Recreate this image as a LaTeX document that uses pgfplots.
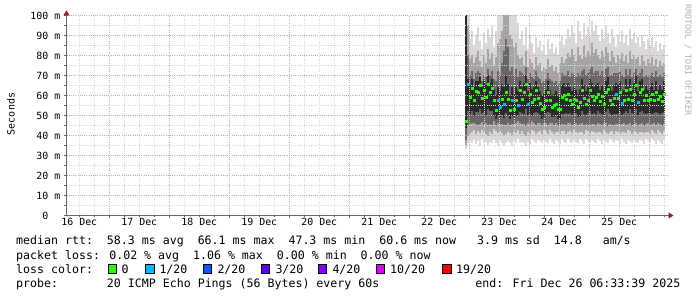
\documentclass[border=0pt]{standalone}
\usepackage{fontspec}
\usepackage{pgfplots}
\pgfplotsset{compat=1.18}
\usepackage{pgfplotstable}
\usetikzlibrary{arrows.meta}
\newfontfamily\dmono{DejaVu Sans Mono}
\definecolor{smokeA}{HTML}{D8D8D8}
\definecolor{smokeB}{HTML}{A4A4A4}
\definecolor{smokeC}{HTML}{676767}
\definecolor{smokeD}{HTML}{2A2A2A}
\definecolor{lossA}{HTML}{26FF00}
\definecolor{lossB}{HTML}{00B8FF}
\definecolor{lossC}{HTML}{0059FF}
\definecolor{lossD}{HTML}{5E00FF}
\definecolor{lossE}{HTML}{7E00FF}
\definecolor{lossF}{HTML}{DD00FF}
\definecolor{lossG}{HTML}{FF0000}
\definecolor{mgrid}{HTML}{DBA4A4}
\definecolor{ngrid}{HTML}{D8D8D8}
\definecolor{axcol}{HTML}{666666}
\definecolor{arrcol}{HTML}{A01C1C}

% x in hours since 16 Dec 00:00; columns of the ping smoke (min..max bands) and median rtt (ms)
\pgfplotstableread{
x lo1 hi1 lo2 hi2 lo3 hi3 lo4 hi4 med
166.8 33 100 35 100 38 100 44 100 47.3
167.6 36 100 40 95 45 80 52 68 65.5
168.4 37 88 41 78 46 70 51 65 59
169.2 36 92 42 80 46 72 52 68 63.5
170.0 38 85 43 76 46 68 50 64 57.5
170.8 36 90 41 79 46 71 52 67 62
171.6 37 94 42 82 45 72 52 67 61.7
172.4 35 87 41 77 46 71 53 69 65
173.2 38 83 43 74 47 67 51 64 58.5
174.0 36 91 42 80 45 70 52 67 62.5
174.8 37 86 41 76 46 69 50 65 59
175.6 35 93 40 83 45 73 53 70 65.8
176.4 37 89 42 78 46 70 52 66 61.7
177.2 36 95 41 81 45 72 52 68 63.7
178.0 38 84 43 75 47 68 50 63 57.5
178.8 36 92 42 79 45 67 48 60 52.8
179.6 35 100 41 86 46 72 50 64 57.5
180.4 37 100 42 88 46 70 49 62 54
181.2 36 100 41 92 46 76 50 66 58.3
182.0 35 100 40 100 45 82 49 64 55.5
182.8 36 100 41 100 45 88 51 70 61.7
183.6 37 100 42 100 46 84 50 66 58
184.4 36 100 41 90 45 72 48 60 52.5
185.2 35 100 40 88 46 74 50 64 57.5
186.0 37 100 42 84 46 70 49 61 53.3
186.8 36 100 41 86 46 73 50 64 57.8
187.6 38 96 43 80 47 69 50 62 55
188.4 36 88 41 78 46 72 52 67 62.5
189.2 37 92 42 79 46 71 51 64 58.3
190.0 36 85 41 75 46 70 51 66 61.7
190.8 35 94 40 82 45 74 53 70 65.8
191.6 37 83 42 74 46 68 50 62 55.8
192.4 36 90 41 78 46 71 51 66 60.8
193.2 38 86 43 76 47 69 50 63 56.7
194.0 37 81 42 73 46 68 51 64 58.3
194.8 36 89 41 79 45 72 52 67 62.5
195.6 38 84 42 75 46 69 51 64 58.8
196.4 37 87 42 76 46 68 50 62 56.2
197.2 36 82 41 72 45 66 48 60 53.3
198.0 38 85 43 74 46 67 49 61 54.2
198.8 37 80 42 73 46 68 51 63 57.8
199.6 36 88 41 78 45 71 52 67 61.7
200.4 38 83 43 74 46 68 51 63 57.5
201.2 37 86 42 75 46 67 49 60 54.2
202.0 36 81 41 72 45 66 49 61 55
202.8 38 84 42 74 46 67 50 62 55.8
203.6 37 80 42 71 45 65 48 60 53.3
204.4 36 87 41 76 45 67 48 60 53.3
205.2 38 90 42 79 46 71 51 65 59.2
206.0 37 85 42 76 46 70 51 66 60
206.8 36 88 41 78 45 70 51 64 58.3
207.6 38 93 42 81 46 72 51 66 60.8
208.4 37 89 42 79 46 69 51 64 57.5
209.2 36 95 41 83 45 71 50 62 55.8
210.0 38 91 43 80 46 70 51 64 58.3
210.8 37 86 42 77 46 69 51 63 57.5
211.6 36 97 41 84 45 71 49 61 54.2
212.4 38 92 42 80 46 70 50 63 56.7
213.2 37 88 42 78 46 72 52 68 62.5
214.0 36 96 41 85 45 73 51 65 58.8
214.8 38 90 43 79 46 70 50 62 55.8
215.6 37 94 42 82 45 71 51 64 57.5
216.4 36 89 41 80 45 73 52 68 62.5
217.2 38 97 42 86 46 74 51 66 59.5
218.0 37 92 42 81 46 71 51 64 57.5
218.8 36 95 41 83 45 72 51 65 59.2
219.6 38 90 42 80 46 72 52 66 60.8
220.4 37 87 42 78 46 70 51 63 57.2
221.2 36 93 41 82 45 72 51 65 59.5
222.0 38 88 43 79 46 69 50 62 55.5
222.8 37 95 42 84 46 73 52 67 61.7
223.6 36 91 41 81 45 74 53 69 63.3
224.4 38 86 42 77 46 70 51 64 57.8
225.2 37 93 42 82 45 70 50 62 55.8
226.0 36 89 41 79 45 71 51 65 58.8
226.8 38 84 42 76 46 71 51 66 60.8
227.6 37 90 42 80 46 71 51 65 58.8
228.4 36 87 41 78 45 72 52 67 61.7
229.2 38 92 42 81 46 70 50 62 56
230.0 37 86 42 77 46 69 51 63 57.5
230.8 36 90 41 80 45 73 52 68 62.8
231.6 38 85 43 76 46 70 51 64 58.3
232.4 37 93 42 82 46 73 53 68 63.3
233.2 36 88 41 78 45 69 51 63 57.5
234.0 38 91 42 80 46 71 51 66 60.8
234.8 37 86 42 78 46 73 53 70 65
235.6 36 89 41 79 45 70 50 62 56.5
236.4 38 84 42 75 46 71 52 67 61.7
237.2 37 90 42 80 46 73 52 68 63.3
238.0 36 87 41 77 45 69 51 63 57.5
238.8 38 83 42 75 46 70 51 65 60
239.6 37 88 42 78 46 69 51 63 57.5
240.4 36 85 41 76 45 70 51 64 58.3
241.2 38 89 43 79 46 71 51 66 60.8
242.0 37 84 42 75 46 69 51 63 57.5
242.8 36 87 41 78 45 72 52 67 61.7
243.6 38 82 43 74 46 69 51 63 58
244.4 37 86 42 77 46 70 51 65 59.5
245.2 36 83 41 75 45 69 51 63 57
246.0 38 85 42 76 46 71 52 67 60.6
}\smoke

\begin{document}
\begin{tikzpicture}
\useasboundingbox[fill=white] (0,0) rectangle (697bp,297bp);
\begin{axis}[
  at={(66.5bp,81.5bp)}, anchor=south west,
  scale only axis, width=602bp, height=200bp,
  xmin=6.88, xmax=247.68, ymin=0, ymax=100,
  enlargelimits=false,
  axis on top,
  axis x line=bottom, axis y line=left,
  x axis line style={draw=axcol, line width=0.8bp, -{Triangle[width=6bp,length=5bp,color=arrcol]}, shorten >=-5bp},
  y axis line style={draw=axcol, line width=0.8bp, -{Triangle[width=6bp,length=5bp,color=arrcol]}, shorten >=-5bp},
  xtick={24,48,72,96,120,144,168,192,216,240},
  xticklabels={},
  minor xtick={12,18,30,36,42,54,60,66,78,84,90,102,108,114,126,132,138,150,156,162,174,180,186,198,204,210,222,228,234,246},
  extra x ticks={12,36,60,84,108,132,156,180,204,228},
  extra x tick labels={16 Dec,17 Dec,18 Dec,19 Dec,20 Dec,21 Dec,22 Dec,23 Dec,24 Dec,25 Dec},
  extra x tick style={grid=none, major tick length=0pt},
  ytick={0,10,20,30,40,50,60,70,80,90,100},
  yticklabels={0\phantom{~m},10 m,20 m,30 m,40 m,50 m,60 m,70 m,80 m,90 m,100 m},
  minor ytick={5,15,25,35,45,55,65,75,85,95},
  grid=both,
  major grid style={draw=mgrid, line width=0.6bp, dash pattern=on 1bp off 1.2bp},
  minor grid style={draw=ngrid, line width=0.6bp, dash pattern=on 1bp off 1.2bp},
  tick align=outside,
  major tick length=2.5bp, minor tick length=2bp,
  tick style={draw=axcol, line width=0.6bp},
  ticklabel style={font=\dmono\fontsize{9.9bp}{11bp}\selectfont, text=black},
  yticklabel style={anchor=east, inner sep=0pt, xshift=-3.5bp},
  xticklabel style={anchor=north, inner sep=0pt, yshift=-2.5bp},
]
\addplot[draw=none, no markers, forget plot, error bars/.cd, y dir=both, y explicit, error mark=none,
  error bar style={draw=smokeA, line width=2.1bp}]
  table[x=x, y expr={(\thisrow{lo1}+\thisrow{hi1})/2}, y error expr={(\thisrow{hi1}-\thisrow{lo1})/2}] {\smoke};
\addplot[draw=none, no markers, forget plot, error bars/.cd, y dir=both, y explicit, error mark=none,
  error bar style={draw=smokeB, line width=2.1bp}]
  table[x=x, y expr={(\thisrow{lo2}+\thisrow{hi2})/2}, y error expr={(\thisrow{hi2}-\thisrow{lo2})/2}] {\smoke};
\addplot[draw=none, no markers, forget plot, error bars/.cd, y dir=both, y explicit, error mark=none,
  error bar style={draw=smokeC, line width=2.1bp}]
  table[x=x, y expr={(\thisrow{lo3}+\thisrow{hi3})/2}, y error expr={(\thisrow{hi3}-\thisrow{lo3})/2}] {\smoke};
\addplot[draw=none, no markers, forget plot, error bars/.cd, y dir=both, y explicit, error mark=none,
  error bar style={draw=smokeD, line width=2.1bp}]
  table[x=x, y expr={(\thisrow{lo4}+\thisrow{hi4})/2}, y error expr={(\thisrow{hi4}-\thisrow{lo4})/2}] {\smoke};
\addplot[only marks, color=lossA, mark=square*, mark size=1.0bp, mark options={solid, fill=lossA, draw=lossA, line width=0.1bp}] table[x=x, y=med] {\smoke};
\addplot[only marks, color=lossB, mark=square*, mark size=1.0bp, mark options={solid, fill=lossB, draw=lossB, line width=0.1bp}] coordinates {
(167.6,65.5) (179.6,57.5) (180.4,54) (182.0,55.5) (185.2,57.5) (187.6,55) (191.6,55.8) (226.8,60.8) (229.2,56) (235.6,56.5)};
\end{axis}

\node[rotate=90, inner sep=0pt, font=\dmono\fontsize{10bp}{12bp}\selectfont] at (11bp,183bp) {Seconds};
\node[rotate=-90, inner sep=0pt, text=black!30, font=\dmono\fontsize{8.4bp}{10bp}\selectfont] at (688bp,237bp) {RRDTOOL / TOBI OETIKER};

\begin{scope}[every node/.style={inner sep=0pt, anchor=base west, font=\dmono\fontsize{11.6bp}{13bp}\selectfont}]
\node at (16bp,52bp) {median rtt:~~58.3 ms avg~~66.1 ms max~~47.3 ms min~~60.6 ms now~~~3.9 ms sd~~14.8~~~am/s};
\node at (16bp,38bp) {packet loss: 0.02 \% avg~~1.06 \% max~~0.00 \% min~~0.00 \% now};
\node at (16bp,24bp) {loss color:};
\node at (121.5bp,24bp) {0};
\node at (159.3bp,24bp) {1/20};
\node at (217.3bp,24bp) {2/20};
\node at (275.3bp,24bp) {3/20};
\node at (332.3bp,24bp) {4/20};
\node at (390bp,24bp) {10/20};
\node at (456bp,24bp) {19/20};
\node at (16bp,10bp) {probe:~~~~~~~20 ICMP Echo Pings (56 Bytes) every 60s};
\node[anchor=base east] at (680.5bp,10bp) {end: Fri Dec 26 06:33:39 2025};
\end{scope}
\foreach \bx/\bc in {108.3/lossA,145.7/lossB,203/lossC,261/lossD,318/lossE,376/lossF,442.7/lossG}{
  \draw[fill=\bc, draw=black, line width=0.8bp] (\bx bp,24bp) rectangle ++(8.5bp,8.8bp);
}
\end{tikzpicture}
\end{document}
